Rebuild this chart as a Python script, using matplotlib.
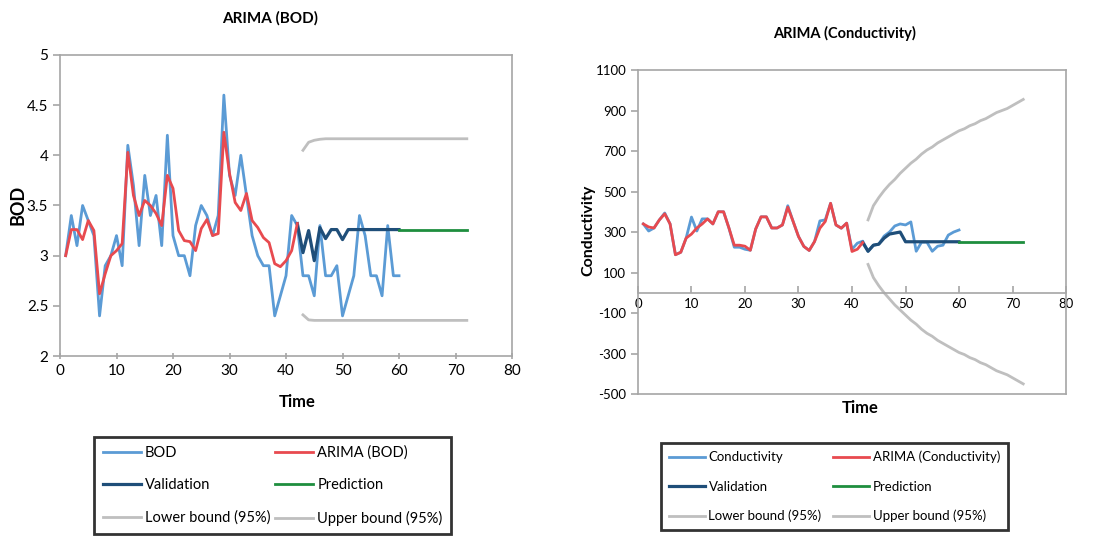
import matplotlib
matplotlib.use("Agg")
import matplotlib.pyplot as plt
import numpy as np

plt.rcParams['font.family'] = ['Lato', 'DejaVu Sans']
plt.rcParams['axes.unicode_minus'] = False

# ---- BOD data ----
bod_t = list(range(1, 61))
bod = [3.0, 3.4, 3.1, 3.5, 3.35, 3.2, 2.4, 2.9, 3.0, 3.2,
       2.9, 4.1, 3.7, 3.1, 3.8, 3.4, 3.6, 3.1, 4.2, 3.2,
       3.0, 3.0, 2.8, 3.3, 3.5, 3.4, 3.2, 3.4, 4.6, 3.8,
       3.6, 4.0, 3.6, 3.2, 3.0, 2.9, 2.9, 2.4, 2.6, 2.8,
       3.4, 3.3, 2.8, 2.8, 2.6, 3.3, 2.8, 2.8, 2.9, 2.4,
       2.6, 2.8, 3.4, 3.2, 2.8, 2.8, 2.6, 3.3, 2.8, 2.8]
arima_bod_t = list(range(1, 43))
arima_bod = [3.0, 3.26, 3.26, 3.16, 3.35, 3.25, 2.62, 2.82, 3.0, 3.05,
             3.12, 4.03, 3.6, 3.4, 3.55, 3.5, 3.42, 3.3, 3.8, 3.67,
             3.25, 3.15, 3.14, 3.05, 3.27, 3.36, 3.2, 3.22, 4.23, 3.82,
             3.53, 3.45, 3.62, 3.35, 3.28, 3.18, 3.13, 2.92, 2.89, 2.95,
             3.05, 3.32]
val_bod_t = list(range(42, 61))
val_bod = [3.32, 3.03, 3.25, 2.95, 3.28, 3.17, 3.26, 3.26, 3.16, 3.26,
           3.26, 3.26, 3.26, 3.26, 3.26, 3.26, 3.26, 3.26, 3.26]
pred_bod_t = [60, 72]
pred_bod = [3.26, 3.26]
bound_bod_t = list(range(43, 73))
low_bod = [2.41, 2.36] + [2.355] * 28
up_bod = [4.05, 4.13, 4.15, 4.16] + [4.165] * 26

# ---- Conductivity data ----
cond_t = list(range(1, 61))
cond = [340, 305, 320, 360, 394, 340, 188, 200, 270, 374,
        305, 365, 365, 340, 400, 400, 320, 225, 225, 215,
        210, 315, 375, 375, 320, 320, 335, 430, 352, 278,
        229, 209, 253, 355, 360, 442, 335, 319, 344, 215,
        245, 255, 205, 235, 240, 280, 300, 330, 340, 335,
        350, 205, 250, 250, 205, 230, 235, 285, 300, 310]
arima_cond_t = list(range(1, 43))
arima_cond = [340, 325, 320, 360, 390, 340, 188, 200, 270, 290,
              320, 340, 365, 340, 400, 400, 320, 235, 235, 230,
              210, 315, 375, 375, 320, 320, 335, 423, 352, 278,
              229, 209, 253, 319, 352, 442, 335, 319, 344, 204,
              215, 248]
val_cond_t = list(range(42, 61))
val_cond = [248, 205, 235, 240, 270, 290, 295, 300, 252, 252,
            252, 252, 252, 252, 252, 252, 252, 252, 252]
pred_cond_t = [60, 72]
pred_cond = [252, 252]
bound_cond_t = list(range(43, 73))
up_cond = [360, 430, 470, 505, 535, 560, 590, 615, 640, 660,
           685, 705, 720, 740, 755, 770, 785, 800, 810, 825,
           835, 850, 860, 875, 890, 900, 910, 925, 940, 955]
low_cond = [140, 75, 35, 0, -30, -60, -85, -110, -135, -155,
            -180, -200, -215, -235, -250, -265, -280, -295, -305, -320,
            -330, -345, -355, -370, -385, -395, -405, -420, -435, -450]

c_obs = '#5B9BD5'
c_arima = '#E84A4F'
c_val = '#1F4E79'
c_pred = '#1E8E3E'
c_bound = '#BFBFBF'
c_axis = '#A6A6A6'
lw = 2.0

fig = plt.figure(figsize=(10.99, 5.39), dpi=100)


def draw(ax, t, obs, at, ar, vt, va, pt, pr, bt, lo, up, name):
    h = []
    h += ax.plot(t, obs, color=c_obs, lw=lw, label=name)
    h += ax.plot(vt, va, color=c_val, lw=lw + 0.3, label='Validation')
    h += ax.plot(bt, lo, color=c_bound, lw=lw, label='Lower bound (95%)')
    h += ax.plot(at, ar, color=c_arima, lw=lw, label='ARIMA (%s)' % name)
    h += ax.plot(pt, pr, color=c_pred, lw=lw, label='Prediction')
    h += ax.plot(bt, up, color=c_bound, lw=lw, label='Upper bound (95%)')
    for s in ax.spines.values():
        s.set_color(c_axis)
        s.set_linewidth(1.2)
    ax.tick_params(colors=c_axis, labelcolor='black', width=1.2, length=5)
    return h


# left chart
ax1 = fig.add_axes([0.0546, 0.3395, 0.4113, 0.5585])
h1 = draw(ax1, bod_t, bod, arima_bod_t, arima_bod, val_bod_t, val_bod,
          pred_bod_t, pred_bod, bound_bod_t, low_bod, up_bod, 'BOD')
ax1.set_xlim(0, 80)
ax1.set_ylim(2, 5)
ax1.set_xticks(range(0, 81, 10))
ax1.set_yticks([2, 2.5, 3, 3.5, 4, 4.5, 5])
ax1.set_yticklabels(['2', '2.5', '3', '3.5', '4', '4.5', '5'])
ax1.tick_params(labelsize=11)
ax1.tick_params(axis='x', direction='inout')
fig.text(270 / 1099, 1 - 18 / 539, 'ARIMA (BOD)', ha='center', va='center',
         fontsize=11, fontweight='bold')
fig.text(18 / 1099, 1 - 205 / 539, 'BOD', ha='center', va='center',
         rotation=90, fontsize=13, fontweight='bold')
fig.text(297 / 1099, 1 - 402 / 539, 'Time', ha='center', va='center',
         fontsize=12, fontweight='bold')

# right chart
ax2 = fig.add_axes([0.5805, 0.269, 0.3895, 0.601])
h2 = draw(ax2, cond_t, cond, arima_cond_t, arima_cond, val_cond_t, val_cond,
          pred_cond_t, pred_cond, bound_cond_t, low_cond, up_cond, 'Conductivity')
ax2.set_xlim(0, 80)
ax2.set_ylim(-500, 1100)
ax2.set_xticks(range(0, 81, 10))
ax2.set_yticks(range(-500, 1101, 200))
ax2.spines['bottom'].set_position(('data', 0))
ax2.plot([0, 1], [0, 0], transform=ax2.transAxes, color=c_axis, lw=1.2,
         clip_on=False)
ax2.tick_params(labelsize=9.5)
ax2.tick_params(axis='x', direction='in', pad=4)
fig.text(845 / 1099, 1 - 33 / 539, 'ARIMA (Conductivity)', ha='center',
         va='center', fontsize=10.5, fontweight='bold')
fig.text(588 / 1099, 1 - 230 / 539, 'Conductivity', ha='center', va='center',
         rotation=90, fontsize=11.5, fontweight='bold')
fig.text(860 / 1099, 1 - 408 / 539, 'Time', ha='center', va='center',
         fontsize=12, fontweight='bold')

# legends (left, top, font size, handle length, column spacing, row spacing)
for h, (x0, y0, fs, hl, cs, ls) in ((h1, (94, 437, 10.5, 2.6, 0.3, 1.25)),
                                     (h2, (661, 443, 9.5, 2.7, 0.9, 1.3))):
    leg = fig.legend(handles=h, loc='upper left', ncol=2,
                     bbox_to_anchor=(x0 / 1099, 1 - y0 / 539),
                     fontsize=fs, frameon=True, fancybox=False,
                     borderaxespad=0, handlelength=hl, handletextpad=0.3,
                     labelspacing=ls, borderpad=0.6, columnspacing=cs)
    leg.get_frame().set_edgecolor('black')
    leg.get_frame().set_linewidth(2)

fig.savefig('out.png', dpi=100)
